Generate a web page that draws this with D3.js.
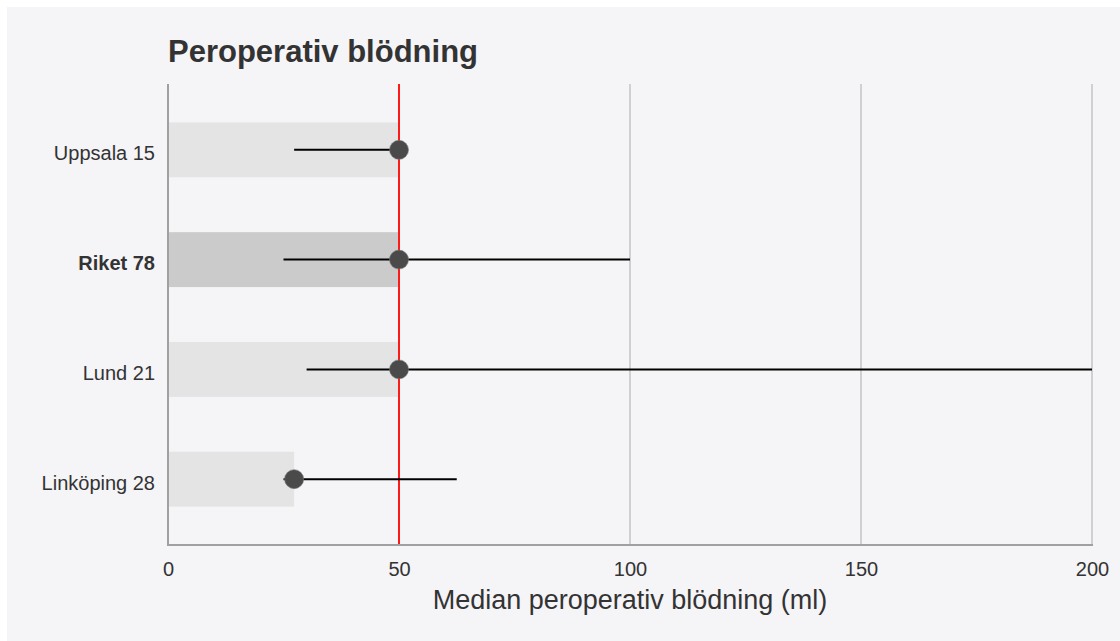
<!DOCTYPE html>
<html>
<head>
<meta charset="utf-8">
<script src="https://cdn.jsdelivr.net/npm/d3@7"></script>
<style>
  body { margin: 0; background: #ffffff; }
  svg { display: block; font-family: "Liberation Sans", Arial, sans-serif; }
</style>
</head>
<body>
<svg width="1120" height="641"></svg>
<script>
// data
const units = ["Uppsala 15", "Riket 78", "Lund 21", "Linköping 28"];
const medians = [50, 50, 50, 27.3];
const lowers = [27.3, 25, 30, 25];
const uppers = [50, 100, 200, 62.5];
const xTicks = [0, 50, 100, 150, 200];
const refValue = 50;
const boldUnit = "Riket 78";

var svg = d3.select("svg");

// panel background
svg.append("rect")
    .attr("x", 7).attr("y", 7)
    .attr("width", 1113).attr("height", 634)
    .style("fill", "#f5f4f7");

var xScale = d3.scaleLinear()
    .domain([0, 200])
    .range([168, 1092]);

var yScale = d3.scaleBand()
    .domain(units)
    .range([84, 545])
    .paddingInner(0.5)
    .paddingOuter(0.35);

var rows = units.map((u, i) => ({
    name: u, median: medians[i], lo: lowers[i], hi: uppers[i]
}));

// grid lines
svg.selectAll(".grid")
    .data(xTicks.filter(t => t > 0))
    .enter().append("line")
    .attr("class", "grid")
    .attr("x1", d => xScale(d)).attr("x2", d => xScale(d))
    .attr("y1", 84).attr("y2", 545)
    .style("stroke", "#d0d0d0")
    .style("stroke-width", 2);

// bars
svg.selectAll(".bar")
    .data(rows)
    .enter().append("rect")
    .attr("class", "bar")
    .attr("x", xScale(0))
    .attr("y", d => yScale(d.name))
    .attr("width", d => xScale(d.median) - xScale(0))
    .attr("height", yScale.bandwidth())
    .style("fill", d => d.name === boldUnit ? "#cbcbcb" : "#e4e4e4");

// reference line
svg.append("line")
    .attr("x1", xScale(refValue)).attr("x2", xScale(refValue))
    .attr("y1", 84).attr("y2", 545)
    .style("stroke", "#ff1a1a")
    .style("stroke-width", 2);

// error bars
svg.selectAll(".err")
    .data(rows)
    .enter().append("line")
    .attr("class", "err")
    .attr("x1", d => xScale(d.lo))
    .attr("x2", d => xScale(d.hi))
    .attr("y1", d => yScale(d.name) + yScale.bandwidth() / 2)
    .attr("y2", d => yScale(d.name) + yScale.bandwidth() / 2)
    .style("stroke", "#000")
    .style("stroke-width", 2);

// dots
svg.selectAll(".dot")
    .data(rows)
    .enter().append("circle")
    .attr("class", "dot")
    .attr("cx", d => xScale(d.median))
    .attr("cy", d => yScale(d.name) + yScale.bandwidth() / 2)
    .attr("r", 9.5)
    .style("fill", "#4a4a4a")
    .style("stroke", "#777")
    .style("stroke-width", 0.6);

// axes lines
svg.append("line")
    .attr("x1", 168).attr("x2", 168)
    .attr("y1", 84).attr("y2", 546)
    .style("stroke", "#a0a0a0").style("stroke-width", 2);
svg.append("line")
    .attr("x1", 167).attr("x2", 1093)
    .attr("y1", 545).attr("y2", 545)
    .style("stroke", "#a0a0a0").style("stroke-width", 2);

// x axis ticks
var xAxis = d3.axisBottom(xScale).tickValues(xTicks).tickSize(0).tickPadding(17);
var gx = svg.append("g")
    .attr("transform", "translate(0, 545)")
    .call(xAxis);
gx.select(".domain").remove();
gx.selectAll("text")
    .style("font-size", "20px")
    .style("fill", "#333")
    .style("font-family", "'Liberation Sans', Arial, sans-serif");

// y labels
var yAxis = d3.axisLeft(yScale).tickSize(0).tickPadding(13);
var gy = svg.append("g")
    .attr("transform", "translate(168, 0)")
    .call(yAxis);
gy.select(".domain").remove();
gy.selectAll("text")
    .attr("dy", "0.52em")
    .style("font-size", "20px")
    .style("fill", "#333")
    .style("font-weight", d => d === boldUnit ? "bold" : "normal")
    .style("font-family", "'Liberation Sans', Arial, sans-serif");

// axis title
svg.append("text")
    .attr("x", xScale(100))
    .attr("y", 609)
    .attr("text-anchor", "middle")
    .style("font-size", "27px")
    .style("fill", "#333")
    .text("Median peroperativ blödning (ml)");

// chart title
svg.append("text")
    .attr("x", 168)
    .attr("y", 62)
    .style("font-size", "31px")
    .style("font-weight", "bold")
    .style("fill", "#333")
    .text("Peroperativ blödning");
</script>
</body>
</html>
